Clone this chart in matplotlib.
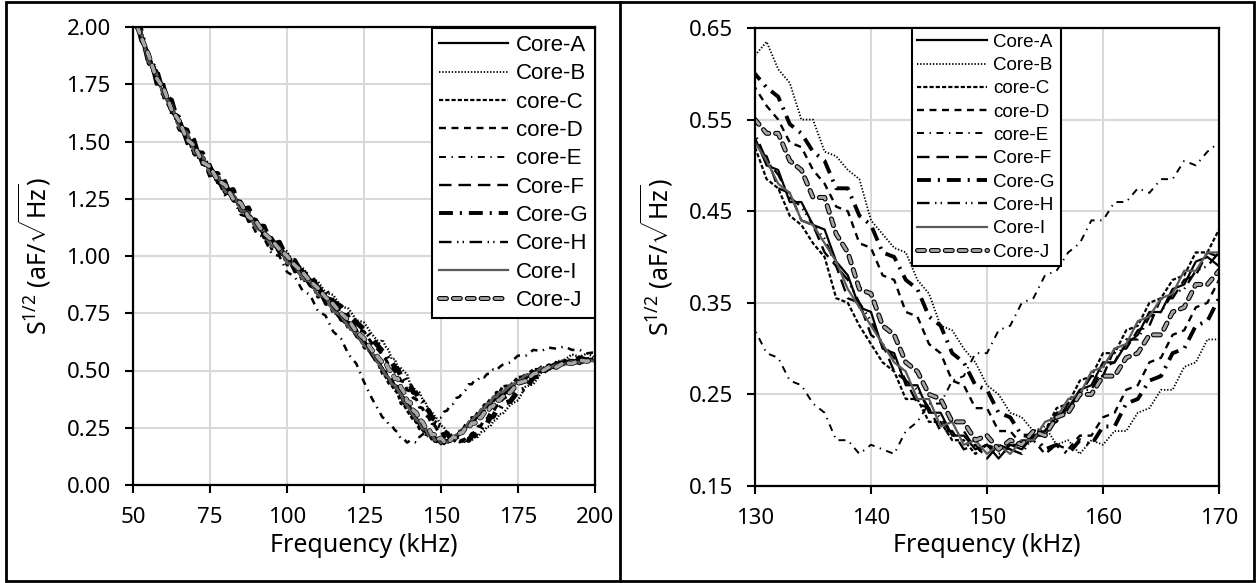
import matplotlib
matplotlib.use('Agg')
import matplotlib.pyplot as plt
import matplotlib.patheffects as pe
from matplotlib.patches import Rectangle
from matplotlib.lines import Line2D
from matplotlib.ticker import FormatStrFormatter

plt.rcParams['font.family'] = ['Noto Sans', 'DejaVu Sans']
plt.rcParams['mathtext.fontset'] = 'custom'
plt.rcParams['mathtext.rm'] = 'Noto Sans'
plt.rcParams['mathtext.default'] = 'regular'
plt.rcParams['lines.scale_dashes'] = False

# frequency grid (kHz), shared by all cores
freq_khz = [50, 52.5, 55, 57.5, 60, 62.5, 65, 67.5, 70, 72.5, 75, 77.5, 80, 82.5, 85, 87.5,
            90, 92.5, 95, 97.5, 100, 102.5, 105, 107.5, 110, 112.5, 115, 117.5, 120, 122.5, 125, 127.5,
            130, 131, 132, 133, 134, 135, 136, 137, 138, 139, 140, 141, 142, 143, 144, 145, 146, 147, 148, 149,
            150, 151, 152, 153, 154, 155, 156, 157, 158, 159, 160, 161, 162, 163, 164, 165, 166, 167, 168, 169,
            170, 172.5, 175, 177.5, 180, 182.5, 185, 187.5, 190, 192.5, 195, 197.5, 200]

# S^1/2 (aF/sqrt(Hz)) per core
core_a = [2.08, 1.94, 1.89, 1.75, 1.75, 1.63, 1.59, 1.49, 1.51, 1.40, 1.39, 1.32, 1.33, 1.24, 1.24, 1.15,
          1.16, 1.09, 1.08, 1.01, 1.00, 0.93, 0.94, 0.87, 0.86, 0.80, 0.79, 0.72, 0.71, 0.65, 0.63, 0.57,
          0.53, 0.50, 0.495, 0.46, 0.46, 0.435, 0.43, 0.395, 0.38, 0.345, 0.34, 0.30, 0.295, 0.26, 0.26, 0.23,
          0.23, 0.205, 0.205, 0.19, 0.195, 0.18, 0.195, 0.19, 0.205, 0.21, 0.225, 0.235, 0.255, 0.26, 0.285, 0.285,
          0.305, 0.315, 0.34, 0.34, 0.365, 0.37, 0.395, 0.40, 0.39,
          0.42, 0.455, 0.465, 0.495, 0.495, 0.52, 0.515, 0.535, 0.53, 0.545, 0.54, 0.55]
core_b = [2.06, 1.96, 1.89, 1.78, 1.74, 1.64, 1.59, 1.51, 1.48, 1.42, 1.39, 1.33, 1.31, 1.26, 1.23, 1.18,
          1.15, 1.10, 1.08, 1.03, 1.02, 0.96, 0.95, 0.90, 0.89, 0.84, 0.83, 0.78, 0.77, 0.72, 0.71, 0.66,
          0.62, 0.635, 0.605, 0.59, 0.55, 0.55, 0.515, 0.51, 0.495, 0.485, 0.44, 0.425, 0.41, 0.405, 0.375, 0.36,
          0.325, 0.32, 0.30, 0.285, 0.26, 0.25, 0.23, 0.225, 0.21, 0.215, 0.195, 0.20, 0.185, 0.20, 0.195, 0.21,
          0.21, 0.23, 0.235, 0.255, 0.255, 0.28, 0.285, 0.31, 0.31,
          0.35, 0.37, 0.43, 0.44, 0.49, 0.50, 0.54, 0.545, 0.57, 0.56, 0.575, 0.555]
core_c = [2.02, 1.99, 1.84, 1.82, 1.69, 1.67, 1.55, 1.55, 1.44, 1.45, 1.35, 1.36, 1.27, 1.28, 1.19, 1.20,
          1.11, 1.12, 1.03, 1.05, 0.96, 0.97, 0.89, 0.90, 0.82, 0.83, 0.75, 0.75, 0.68, 0.68, 0.60, 0.58,
          0.52, 0.485, 0.475, 0.445, 0.435, 0.415, 0.40, 0.355, 0.35, 0.325, 0.305, 0.285, 0.275, 0.245, 0.245, 0.22,
          0.22, 0.20, 0.20, 0.185, 0.195, 0.19, 0.195, 0.195, 0.21, 0.21, 0.235, 0.24, 0.265, 0.27, 0.295, 0.295,
          0.32, 0.325, 0.35, 0.355, 0.375, 0.38, 0.405, 0.405, 0.43,
          0.435, 0.47, 0.475, 0.505, 0.505, 0.525, 0.525, 0.545, 0.535, 0.555, 0.545, 0.555]
core_d = [2.07, 1.99, 1.84, 1.81, 1.70, 1.63, 1.61, 1.50, 1.49, 1.40, 1.40, 1.32, 1.32, 1.25, 1.24, 1.17,
          1.16, 1.09, 1.08, 1.03, 1.01, 0.95, 0.95, 0.89, 0.88, 0.82, 0.81, 0.75, 0.74, 0.68, 0.67, 0.62,
          0.585, 0.565, 0.55, 0.525, 0.52, 0.495, 0.48, 0.455, 0.45, 0.415, 0.41, 0.38, 0.375, 0.34, 0.335, 0.305,
          0.295, 0.265, 0.26, 0.235, 0.235, 0.21, 0.21, 0.195, 0.20, 0.185, 0.195, 0.19, 0.205, 0.205, 0.225, 0.23,
          0.255, 0.26, 0.285, 0.29, 0.315, 0.32, 0.345, 0.35, 0.375,
          0.395, 0.44, 0.45, 0.49, 0.495, 0.52, 0.52, 0.54, 0.535, 0.55, 0.545, 0.555]
core_e = [2.02, 1.99, 1.85, 1.80, 1.69, 1.66, 1.55, 1.53, 1.43, 1.43, 1.34, 1.33, 1.26, 1.25, 1.18, 1.17,
          1.10, 1.08, 1.01, 1.00, 0.93, 0.91, 0.85, 0.83, 0.76, 0.74, 0.67, 0.64, 0.57, 0.53, 0.45, 0.38,
          0.32, 0.295, 0.29, 0.265, 0.26, 0.24, 0.23, 0.20, 0.20, 0.185, 0.195, 0.19, 0.185, 0.21, 0.22, 0.24,
          0.24, 0.265, 0.27, 0.295, 0.295, 0.32, 0.325, 0.35, 0.355, 0.38, 0.385, 0.405, 0.415, 0.44, 0.44, 0.46,
          0.46, 0.475, 0.47, 0.485, 0.485, 0.505, 0.50, 0.515, 0.525,
          0.535, 0.565, 0.565, 0.59, 0.585, 0.60, 0.595, 0.605, 0.59, 0.59, 0.575, 0.58]
core_f = [2.04, 1.95, 1.89, 1.77, 1.74, 1.63, 1.60, 1.50, 1.49, 1.40, 1.40, 1.32, 1.31, 1.25, 1.23, 1.16,
          1.15, 1.09, 1.07, 1.02, 0.99, 0.94, 0.92, 0.87, 0.85, 0.80, 0.77, 0.72, 0.70, 0.65, 0.62, 0.57,
          0.515, 0.51, 0.475, 0.47, 0.44, 0.435, 0.405, 0.39, 0.355, 0.35, 0.315, 0.305, 0.275, 0.265, 0.24, 0.235,
          0.21, 0.21, 0.19, 0.195, 0.18, 0.195, 0.19, 0.20, 0.20, 0.215, 0.22, 0.24, 0.25, 0.27, 0.27, 0.30,
          0.30, 0.32, 0.325, 0.355, 0.355, 0.375, 0.38, 0.405, 0.40,
          0.44, 0.45, 0.485, 0.485, 0.515, 0.51, 0.535, 0.525, 0.545, 0.535, 0.55, 0.545]
core_g = [2.03, 1.99, 1.85, 1.82, 1.70, 1.68, 1.56, 1.55, 1.45, 1.45, 1.36, 1.36, 1.28, 1.29, 1.20, 1.21,
          1.13, 1.13, 1.05, 1.06, 0.99, 0.98, 0.92, 0.92, 0.86, 0.85, 0.80, 0.78, 0.74, 0.71, 0.68, 0.64,
          0.60, 0.585, 0.575, 0.545, 0.535, 0.515, 0.505, 0.475, 0.475, 0.445, 0.435, 0.405, 0.40, 0.375, 0.365, 0.335,
          0.325, 0.295, 0.285, 0.26, 0.255, 0.23, 0.225, 0.205, 0.205, 0.19, 0.195, 0.185, 0.20, 0.195, 0.215, 0.215,
          0.24, 0.245, 0.265, 0.27, 0.295, 0.30, 0.325, 0.33, 0.355,
          0.365, 0.41, 0.42, 0.47, 0.48, 0.52, 0.515, 0.545, 0.54, 0.555, 0.545, 0.56]
core_h = [2.07, 1.95, 1.88, 1.77, 1.74, 1.62, 1.60, 1.50, 1.49, 1.40, 1.39, 1.32, 1.32, 1.24, 1.23, 1.16,
          1.15, 1.08, 1.07, 1.01, 1.00, 0.94, 0.93, 0.87, 0.86, 0.79, 0.78, 0.72, 0.71, 0.65, 0.63, 0.58,
          0.535, 0.505, 0.49, 0.465, 0.455, 0.435, 0.42, 0.39, 0.375, 0.35, 0.33, 0.305, 0.29, 0.265, 0.255, 0.235,
          0.225, 0.205, 0.21, 0.19, 0.195, 0.185, 0.19, 0.185, 0.205, 0.205, 0.23, 0.23, 0.255, 0.255, 0.28, 0.285,
          0.31, 0.31, 0.335, 0.34, 0.36, 0.365, 0.385, 0.39, 0.405,
          0.43, 0.445, 0.475, 0.485, 0.505, 0.505, 0.525, 0.525, 0.54, 0.53, 0.545, 0.54]
core_i = [2.03, 1.98, 1.85, 1.80, 1.70, 1.66, 1.56, 1.54, 1.45, 1.44, 1.36, 1.35, 1.28, 1.27, 1.20, 1.19,
          1.12, 1.11, 1.04, 1.04, 0.97, 0.96, 0.90, 0.89, 0.83, 0.82, 0.76, 0.74, 0.69, 0.66, 0.61, 0.58,
          0.525, 0.505, 0.48, 0.47, 0.44, 0.435, 0.415, 0.395, 0.365, 0.345, 0.325, 0.305, 0.285, 0.275, 0.245, 0.245,
          0.215, 0.22, 0.195, 0.20, 0.185, 0.195, 0.185, 0.20, 0.20, 0.22, 0.225, 0.245, 0.25, 0.275, 0.28, 0.30,
          0.305, 0.33, 0.335, 0.355, 0.36, 0.385, 0.385, 0.405, 0.405,
          0.435, 0.45, 0.48, 0.485, 0.51, 0.51, 0.525, 0.525, 0.54, 0.535, 0.545, 0.54]
core_j = [2.06, 1.96, 1.88, 1.78, 1.73, 1.64, 1.59, 1.51, 1.48, 1.41, 1.39, 1.33, 1.31, 1.25, 1.23, 1.17,
          1.15, 1.10, 1.07, 1.03, 1.00, 0.96, 0.93, 0.89, 0.86, 0.82, 0.79, 0.75, 0.72, 0.67, 0.64, 0.59,
          0.55, 0.535, 0.535, 0.505, 0.495, 0.465, 0.465, 0.425, 0.405, 0.365, 0.36, 0.325, 0.315, 0.285, 0.275, 0.25,
          0.245, 0.22, 0.22, 0.20, 0.205, 0.19, 0.20, 0.195, 0.21, 0.205, 0.225, 0.23, 0.25, 0.25, 0.27, 0.27,
          0.29, 0.295, 0.315, 0.315, 0.34, 0.345, 0.37, 0.37, 0.385,
          0.405, 0.445, 0.455, 0.485, 0.495, 0.515, 0.515, 0.535, 0.53, 0.545, 0.54, 0.555]

labels = ['Core-A', 'Core-B', 'core-C', 'core-D', 'core-E',
          'Core-F', 'Core-G', 'Core-H', 'Core-I', 'Core-J']
series = [core_a, core_b, core_c, core_d, core_e, core_f, core_g, core_h, core_i, core_j]

outline = [pe.Stroke(linewidth=3.6, foreground='black'), pe.Normal()]
styles = [
    dict(color='black', lw=1.6, ls='-'),
    dict(color='black', lw=1.3, ls=(0, (1, 1.3))),
    dict(color='black', lw=1.6, ls=(0, (3, 1.5))),
    dict(color='black', lw=1.7, ls=(0, (5, 4))),
    dict(color='black', lw=1.4, ls=(0, (5, 4, 1, 4))),
    dict(color='black', lw=1.7, ls=(0, (9, 5))),
    dict(color='black', lw=2.8, ls=(0, (10, 5, 1.5, 5))),
    dict(color='black', lw=1.7, ls=(0, (9, 4, 1, 3, 1, 4))),
    dict(color='#5a5a5a', lw=1.6, ls='-'),
    dict(color='#a6a6a6', lw=2.0, ls=(0, (5, 5)), path_effects=outline, dash_capstyle='round'),
]

W, H = 1257, 583
fig = plt.figure(figsize=(W / 100, H / 100), dpi=100)
ax1 = fig.add_axes([133 / W, 1 - 485 / H, (595 - 133) / W, (485 - 27) / H])
ax2 = fig.add_axes([755 / W, 1 - 486 / H, (1219 - 755) / W, (486 - 28) / H])

for ax in (ax1, ax2):
    for y, lab, st in zip(series, labels, styles):
        ax.plot(freq_khz, y, label=lab, **st)
    ax.grid(True, color='#d9d9d9', lw=1.5)
    ax.set_axisbelow(True)
    for sp in ax.spines.values():
        sp.set_linewidth(1.6)
    ax.tick_params(direction='out', length=6, width=1.5, labelsize=16, pad=10)
    ax.yaxis.set_major_formatter(FormatStrFormatter('%.2f'))
    ax.set_xlabel('Frequency (kHz)', fontsize=18, va='center')
    ax.set_ylabel('S$^{1/2}$ (aF/$\\sqrt{\\mathrm{Hz}}$)', fontsize=18, va='center')
    ax.xaxis.set_label_coords(0.5, -60 / 458)
    ax.yaxis.set_label_coords(-98 / 462, 0.5)

ax1.set_xlim(50, 200)
ax1.set_ylim(0, 2)
ax1.set_xticks([50, 75, 100, 125, 150, 175, 200])
ax1.set_yticks([0, 0.25, 0.5, 0.75, 1.0, 1.25, 1.5, 1.75, 2.0])

ax2.set_xlim(130, 170)
ax2.set_ylim(0.15, 0.65)
ax2.set_xticks([130, 140, 150, 160, 170])
ax2.set_yticks([0.15, 0.25, 0.35, 0.45, 0.55, 0.65])

# thicker traces on the wide-range panel, like the dense band in the source
for ln in ax1.get_lines():
    ln.set_linewidth(ln.get_linewidth() * 1.3)

leg1 = ax1.legend(loc='upper right', bbox_to_anchor=(1.0, 0.997), borderaxespad=0,
                  prop={'family': 'Liberation Sans', 'size': 16}, handlelength=3.1,
                  handletextpad=0.35, labelspacing=0.33, fancybox=False, framealpha=1,
                  edgecolor='black', borderpad=0.3)
leg1.get_frame().set_linewidth(1.5)
for ln, st in zip(leg1.get_lines(), styles):
    ln.set_linewidth(st['lw'])
leg2 = ax2.legend(loc='upper left', bbox_to_anchor=(0.338, 1.0), borderaxespad=0,
                  prop={'family': 'Liberation Sans', 'size': 13.5}, handlelength=3.7,
                  handletextpad=0.35, labelspacing=0.33, fancybox=False, framealpha=1,
                  edgecolor='black', borderpad=0.3)
leg2.get_frame().set_linewidth(1.5)

# panel frames
fig.add_artist(Rectangle((6 / W, 2 / H), (W - 9) / W, (H - 4) / H, transform=fig.transFigure,
                         fill=False, lw=2, edgecolor='black'))
fig.add_artist(Line2D([620 / W, 620 / W], [2 / H, 1 - 2 / H], transform=fig.transFigure,
                      color='black', lw=2))

fig.savefig('out.png', dpi=100)
